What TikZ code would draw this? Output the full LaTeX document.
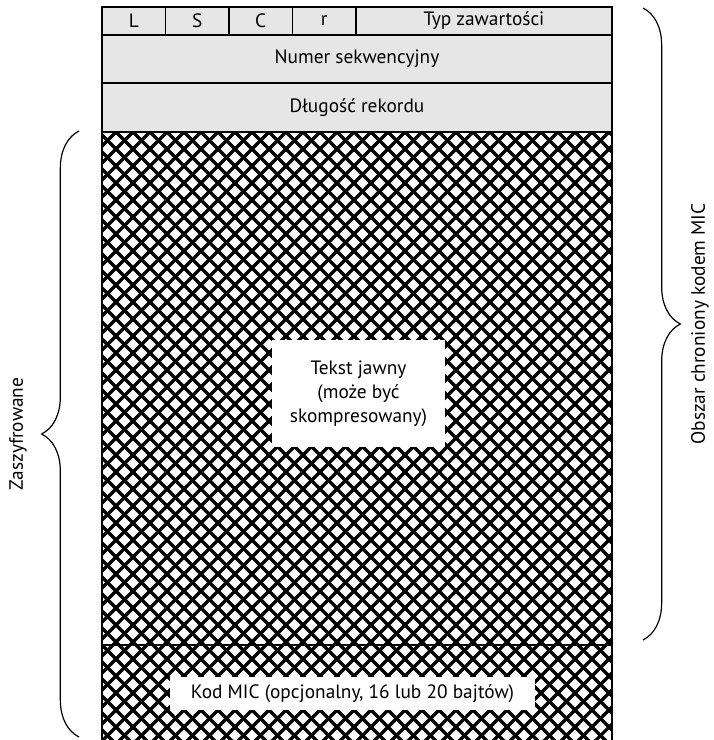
\documentclass[tikz,border=0pt]{standalone}
\usepackage{fontspec}
\setmainfont{PT Sans}
\usetikzlibrary{positioning, decorations.pathreplacing}
\usepackage{xcolor}
\definecolor{RecGray}{HTML}{E6E6E6}
\definecolor{RecBlack}{HTML}{000000}
\definecolor{RecWhite}{HTML}{FFFFFF}
\tikzset{
    % header fields
    field/.style={
        rectangle,
        draw=RecBlack,
        fill=RecGray,
        line width=1.1pt,
        inner sep=0pt,
        align=center,
        font=\fontsize{14.5}{18}\selectfont
    },
    % white windows in the hatched part
    hole/.style={
        rectangle,
        fill=RecWhite,
        inner sep=0pt,
        align=center,
        font=\fontsize{14.5}{18}\selectfont
    },
    border/.style={
        line width=1.1pt,
        draw=RecBlack
    },
    hatch/.style={
        line width=2.4pt,
        draw=RecBlack
    },
    curly/.style={
        decorate,
        decoration={brace, amplitude=28pt},
        line width=0.9pt,
        draw=RecBlack
    },
    sidelabel/.style={
        rotate=90,
        inner sep=0pt,
        font=\fontsize{14.5}{18}\selectfont
    }
}

\begin{document}
\begin{tikzpicture}[x=0.75pt, y=-0.75pt]
    \useasboundingbox (0,0) rectangle (714,740);

    % header
    \node[field, minimum width=47.6pt, minimum height=21pt] (fL) at (133.75,21) {L};
    \node[field, minimum width=47.6pt, minimum height=21pt] (fS) at (197.25,21) {S};
    \node[field, minimum width=47.6pt, minimum height=21pt] (fC) at (260.75,21) {C};
    \node[field, minimum width=47.6pt, minimum height=21pt] (fR) at (324.25,21) {r};
    \node[field, minimum width=192pt, minimum height=21pt] (fType) at (484,21) {Typ zawartości};
    \node[field, minimum width=382.5pt, minimum height=36pt] (seqNum) at (357,59) {Numer sekwencyjny};
    \node[field, minimum width=382.5pt, minimum height=36.75pt] (recLen) at (357,107.5) {Długość rekordu};

    % hatched (encrypted) part
    \coordinate (dataNW) at (102,132);
    \coordinate (dataSE) at (612,745);
    \begin{scope}
        \clip (dataNW) rectangle (dataSE);
        \foreach \c in {-700,-683,...,1400} {
            \draw[hatch] (\c,132) -- ++(700,700);
            \draw[hatch] (\c,132) -- ++(-700,700);
        }
    \end{scope}
    \draw[border] (102,645) -- (612,645);
    \draw[border] (dataNW) -- (102,745);
    \draw[border] (612,132) -- (612,745);

    \node[hole, minimum width=129.75pt, minimum height=80.25pt] (plain) at (358.5,393.5) {Tekst jawny\\(może być\\skompresowany)};
    \node[hole, minimum width=273.75pt, minimum height=24.75pt] (mic) at (352.5,693.5) {Kod MIC (opcjonalny, 16 lub 20 bajtów)};

    % braces
    \coordinate (macTop) at (643,8);
    \coordinate (macBot) at (643,640);
    \draw[curly] (macTop) -- (macBot);
    \node[sidelabel] (macLbl) at (700,324) {Obszar chroniony kodem MIC};

    \coordinate (encTop) at (79,131);
    \coordinate (encBot) at (79,737);
    \draw[curly] (encBot) -- (encTop);
    \node[sidelabel] (encLbl) at (18,434) {Zaszyfrowane};
\end{tikzpicture}
\end{document}
